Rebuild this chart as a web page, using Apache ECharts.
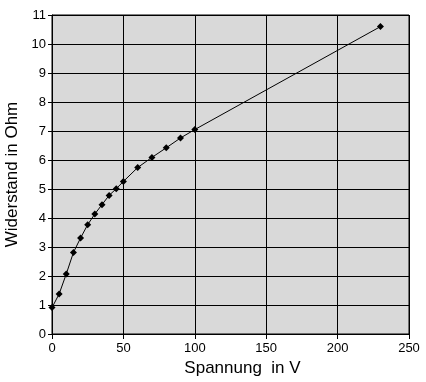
<!DOCTYPE html>
<html><head><meta charset="utf-8">
<script src="https://cdn.jsdelivr.net/npm/echarts@6/dist/echarts.min.js"></script>
<style>html,body{margin:0;padding:0;background:#fff}#c{width:426px;height:382px}</style>
</head><body><div id="c"></div>
<script>
const voltage = [0, 5, 10, 15, 20, 25, 30, 35, 40, 45, 50, 60, 70, 80, 90, 100, 230];
const resistance = [0.91, 1.38, 2.07, 2.81, 3.31, 3.77, 4.14, 4.46, 4.78, 5.01, 5.26, 5.74, 6.09, 6.42, 6.76, 7.05, 10.6];
const xTitle = 'Spannung  in V';
const yTitle = 'Widerstand in Ohm';

const labelFont = '"Liberation Sans Narrow", "Liberation Sans", Arial, sans-serif';
const chart = echarts.init(document.getElementById('c'), null, {renderer: 'canvas'});
chart.setOption({
  animation: false,
  backgroundColor: '#ffffff',
  grid: {left: 52, top: 15, right: 17, bottom: 48, containLabel: false, outerBoundsMode: 'none', show: true, backgroundColor: '#d9d9d9', borderColor: '#000', borderWidth: 1},
  xAxis: {
    type: 'value', min: 0, max: 250, interval: 50,
    name: xTitle, nameLocation: 'middle', nameGap: 22,
    nameTextStyle: {fontFamily: '"Liberation Sans", Arial, sans-serif', fontSize: 17, color: '#000', padding: [0, 0, 0, 24]},
    axisLine: {lineStyle: {color: '#000', width: 1}},
    axisTick: {show: true, length: 5, lineStyle: {color: '#000'}},
    axisLabel: {color: '#000', fontFamily: labelFont, fontSize: 13, margin: 8},
    splitLine: {show: true, lineStyle: {color: '#000', width: 1}}
  },
  yAxis: {
    type: 'value', min: 0, max: 11, interval: 1,
    name: yTitle, nameLocation: 'middle', nameGap: 27,
    nameTextStyle: {fontFamily: '"Liberation Sans", Arial, sans-serif', fontSize: 17, color: '#000'},
    axisLine: {show: true, lineStyle: {color: '#000', width: 1}},
    axisTick: {show: true, length: 4, lineStyle: {color: '#000'}},
    axisLabel: {color: '#000', fontFamily: labelFont, fontSize: 13, margin: 6},
    splitLine: {show: true, lineStyle: {color: '#000', width: 1}}
  },
  series: [{
    type: 'line',
    data: voltage.map((v, i) => [v, resistance[i]]),
    symbol: 'diamond', symbolSize: 7,
    itemStyle: {color: '#000'},
    lineStyle: {color: '#000', width: 1}
  }]
});
</script></body></html>
